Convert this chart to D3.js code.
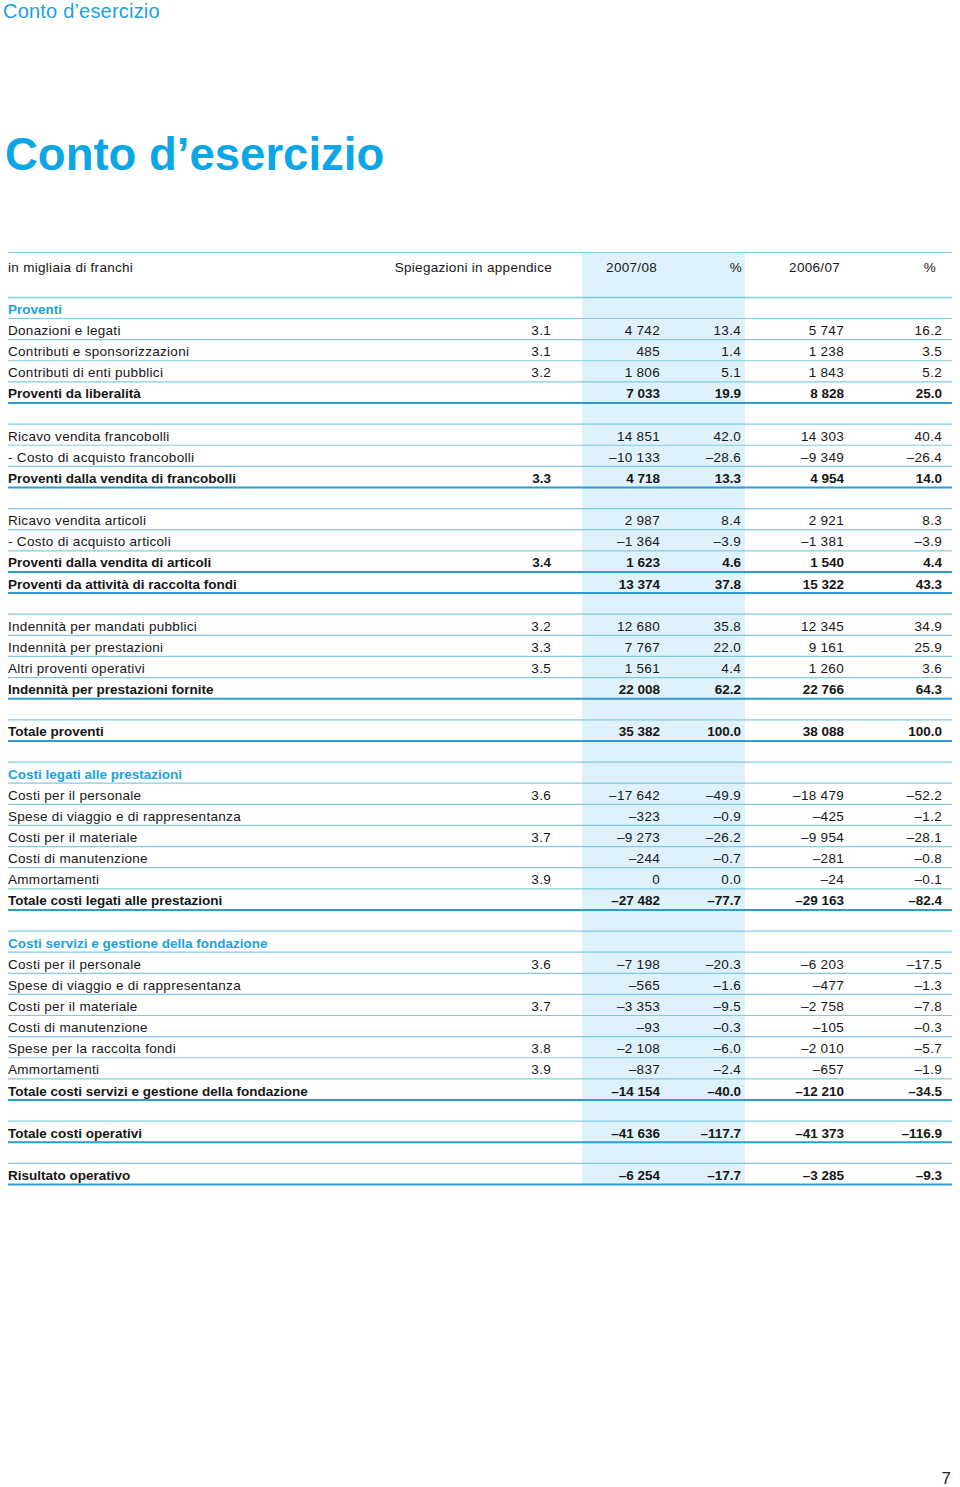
<!DOCTYPE html>
<html><head><meta charset="utf-8">
<script src="https://cdn.jsdelivr.net/npm/d3@7"></script>
<style>
html,body{margin:0;padding:0;background:#fff;}
svg{display:block;font-family:"Liberation Sans",Arial,Helvetica,sans-serif;}
</style></head>
<body><svg id="c" width="960" height="1487"></svg>
<script>
const pageTitle = "Conto d\u2019esercizio";
const headers = ["in migliaia di franchi", "Spiegazioni in appendice", "2007/08", "%", "2006/07", "%"];
const labels = [
"Proventi","Donazioni e legati","Contributi e sponsorizzazioni","Contributi di enti pubblici","Proventi da liberalità","",
"Ricavo vendita francobolli","- Costo di acquisto francobolli","Proventi dalla vendita di francobolli","",
"Ricavo vendita articoli","- Costo di acquisto articoli","Proventi dalla vendita di articoli","Proventi da attività di raccolta fondi","",
"Indennità per mandati pubblici","Indennità per prestazioni","Altri proventi operativi","Indennità per prestazioni fornite","",
"Totale proventi","",
"Costi legati alle prestazioni","Costi per il personale","Spese di viaggio e di rappresentanza","Costi per il materiale","Costi di manutenzione","Ammortamenti","Totale costi legati alle prestazioni","",
"Costi servizi e gestione della fondazione","Costi per il personale","Spese di viaggio e di rappresentanza","Costi per il materiale","Costi di manutenzione","Spese per la raccolta fondi","Ammortamenti","Totale costi servizi e gestione della fondazione","",
"Totale costi operativi","","Risultato operativo"];
// s = section, n = normal, t = total, b = blank
const kinds = ["s","n","n","n","t","b", "n","n","t","b", "n","n","t","t","b", "n","n","n","t","b", "t","b",
"s","n","n","n","n","n","t","b", "s","n","n","n","n","n","n","t","b", "t","b","t"];
const notes = ["","3.1","3.1","3.2","","", "","","3.3","", "","","3.4","","", "3.2","3.3","3.5","","", "","",
"","3.6","","3.7","","3.9","","", "","3.6","","3.7","","3.8","3.9","","", "","",""];
const v2008 = [null,4742,485,1806,7033,null, 14851,-10133,4718,null, 2987,-1364,1623,13374,null, 12680,7767,1561,22008,null, 35382,null,
null,-17642,-323,-9273,-244,0,-27482,null, null,-7198,-565,-3353,-93,-2108,-837,-14154,null, -41636,null,-6254];
const p2008 = [null,13.4,1.4,5.1,19.9,null, 42.0,-28.6,13.3,null, 8.4,-3.9,4.6,37.8,null, 35.8,22.0,4.4,62.2,null, 100.0,null,
null,-49.9,-0.9,-26.2,-0.7,0.0,-77.7,null, null,-20.3,-1.6,-9.5,-0.3,-6.0,-2.4,-40.0,null, -117.7,null,-17.7];
const v2007 = [null,5747,1238,1843,8828,null, 14303,-9349,4954,null, 2921,-1381,1540,15322,null, 12345,9161,1260,22766,null, 38088,null,
null,-18479,-425,-9954,-281,-24,-29163,null, null,-6203,-477,-2758,-105,-2010,-657,-12210,null, -41373,null,-3285];
const p2007 = [null,16.2,3.5,5.2,25.0,null, 40.4,-26.4,14.0,null, 8.3,-3.9,4.4,43.3,null, 34.9,25.9,3.6,64.3,null, 100.0,null,
null,-52.2,-1.2,-28.1,-0.8,-0.1,-82.4,null, null,-17.5,-1.3,-7.8,-0.3,-5.7,-1.9,-34.5,null, -116.9,null,-9.3];
const pageNumber = "7";

const rows = labels.map((l,i)=>({label:l, kind:kinds[i], note:notes[i], v1:v2008[i], p1:p2008[i], v2:v2007[i], p2:p2007[i], i}));

const loc = d3.formatLocale({decimal:".", thousands:" ", grouping:[3], currency:["",""], minus:"\u2013"});
const fInt = loc.format(",d");
const fPct = loc.format(".1f");

const svg = d3.select("#c");
const BLUE = "#19a3de", TITLE = "#0aa6e6", LINE = "#7fcbe6", THICK = "#2f9bd3", SHADE = "#dff1fb", TXT = "#161616";

const y = d3.scaleLinear().domain([0, rows.length-1]).range([309, 1175]);
const x = d3.scaleOrdinal().domain(["label","note","v1","p1","v2","p2"]).range([8, 551, 660, 741, 844, 942]);
const hx = d3.scaleOrdinal().domain(["label","note","v1","p1","v2","p2"]).range([8, 552, 657, 742, 840, 936]);
const L = 8, R = 952;

// shading of current-year columns
svg.append("rect").attr("x",582).attr("width",163).attr("y",252).attr("height", y(rows.length-1)+9.5-252).attr("fill",SHADE);

// titles
svg.append("text").attr("x",3).attr("y",18).attr("fill",BLUE).attr("font-size",20).attr("letter-spacing",0.2).text(pageTitle);
svg.append("text").attr("x",5).attr("y",170).attr("fill",TITLE).attr("font-size",45.5).attr("font-weight","bold").text(pageTitle);

// header
svg.append("line").attr("x1",L).attr("x2",R).attr("y1",252.5).attr("y2",252.5).attr("stroke",LINE).attr("stroke-width",1.2);
svg.append("line").attr("x1",L).attr("x2",R).attr("y1",y(-1)+9.5).attr("y2",y(-1)+9.5).attr("stroke",LINE).attr("stroke-width",1.5);
const hkeys = ["label","note","v1","p1","v2","p2"];
svg.append("g").selectAll("text").data(headers).join("text")
  .attr("x",(d,i)=>hx(hkeys[i])).attr("y",272)
  .attr("text-anchor",(d,i)=>i===0?"start":"end")
  .attr("font-size",13.5).attr("letter-spacing",0.3).attr("fill",TXT).text(d=>d);

// row lines
svg.append("g").selectAll("line").data(rows).join("line")
  .attr("x1",L).attr("x2",R)
  .attr("y1",d=>y(d.i)+9.5).attr("y2",d=>y(d.i)+9.5)
  .attr("stroke",d=>d.kind==="t"?THICK:LINE)
  .attr("stroke-width",d=>d.kind==="t"?2:1.2);

// row text
const g = svg.append("g");
const rowG = g.selectAll("g").data(rows.filter(d=>d.kind!=="b")).join("g")
  .attr("transform",d=>`translate(0,${y(d.i)+5})`)
  .attr("font-size",13.5)
  .attr("font-weight",d=>d.kind==="n"?"normal":"bold")
  .attr("letter-spacing",d=>d.kind==="n"?0.3:0)
  .attr("fill",d=>d.kind==="s"?BLUE:TXT);
rowG.append("text").attr("x",x("label")).text(d=>d.label);
rowG.append("text").attr("x",x("note")).attr("text-anchor","end").text(d=>d.note);
rowG.append("text").attr("x",x("v1")).attr("text-anchor","end").text(d=>d.v1==null?"":fInt(d.v1));
rowG.append("text").attr("x",x("p1")).attr("text-anchor","end").text(d=>d.p1==null?"":fPct(d.p1));
rowG.append("text").attr("x",x("v2")).attr("text-anchor","end").text(d=>d.v2==null?"":fInt(d.v2));
rowG.append("text").attr("x",x("p2")).attr("text-anchor","end").text(d=>d.p2==null?"":fPct(d.p2));

svg.append("text").attr("x",951).attr("y",1484).attr("text-anchor","end").attr("font-size",17).attr("fill","#222").text(pageNumber);
</script></body></html>
